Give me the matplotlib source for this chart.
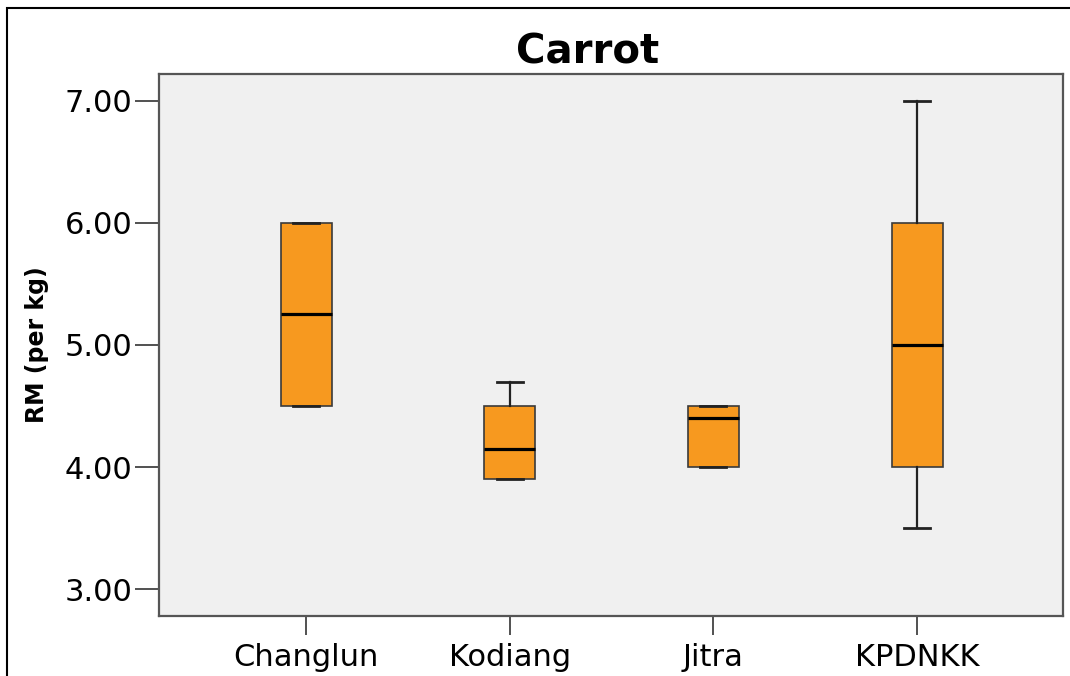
import matplotlib.pyplot as plt
from matplotlib.patches import Rectangle

# values (RM per kg)
categories = ["Changlun", "Kodiang", "Jitra", "KPDNKK"]
whisker_low = [4.5, 3.9, 4.0, 3.5]
q1 = [4.5, 3.9, 4.0, 4.0]
median = [5.25, 4.15, 4.4, 5.0]
q3 = [6.0, 4.5, 4.5, 6.0]
whisker_high = [6.0, 4.7, 4.5, 7.0]
yticks = [3, 4, 5, 6, 7]


def main():
    plt.rcParams["font.family"] = ["DejaVu Sans"]
    fig = plt.figure(figsize=(10.7, 6.76), dpi=100)
    ax = fig.add_axes([159 / 1070, 1 - 616 / 676, 904 / 1070, 542 / 676])
    ax.set_facecolor("#f0f0f0")

    stats = []
    for i, name in enumerate(categories):
        stats.append({
            "label": name,
            "whislo": whisker_low[i],
            "q1": q1[i],
            "med": median[i],
            "q3": q3[i],
            "whishi": whisker_high[i],
            "fliers": [],
        })

    ax.bxp(stats, positions=[1, 2, 3, 4], widths=0.25, capwidths=0.128,
           patch_artist=True, showfliers=False,
           boxprops=dict(facecolor="#f7991f", edgecolor="#3a3a3a",
                         linewidth=1.2),
           medianprops=dict(color="black", linewidth=2.3),
           whiskerprops=dict(color="#222222", linewidth=1.6),
           capprops=dict(color="#222222", linewidth=2.0))

    ax.set_xlim(0.278, 4.716)
    ax.set_ylim(2.779, 7.221)
    ax.set_yticks(yticks)
    ax.set_yticklabels([f"{v:.2f}" for v in yticks])
    ax.set_xticks([1, 2, 3, 4])
    ax.set_xticklabels(categories)

    for s in ax.spines.values():
        s.set_color("#555555")
        s.set_linewidth(1.6)
    ax.tick_params(axis="y", length=17, width=1.2, color="#333333",
                   labelsize=22, pad=2)
    ax.tick_params(axis="x", length=13.7, width=1.2, color="#333333",
                   labelsize=22, pad=6)

    ax.set_ylabel("RM (per kg)", fontsize=17, fontweight="bold")
    ax.yaxis.set_label_coords(-110 / 904, 0.5)

    fig.text(588 / 1070, 1 - 52 / 676, "Carrot", fontsize=29,
             fontweight="bold", ha="center", va="center")

    # outer frame of the original chart
    fig.patches.append(Rectangle((7 / 1070, -0.1), 1.2, 1 - 8 / 676 + 0.1,
                                 transform=fig.transFigure, fill=False,
                                 edgecolor="black", linewidth=1.5))

    fig.savefig("out.png", dpi=100)


if __name__ == "__main__":
    main()
